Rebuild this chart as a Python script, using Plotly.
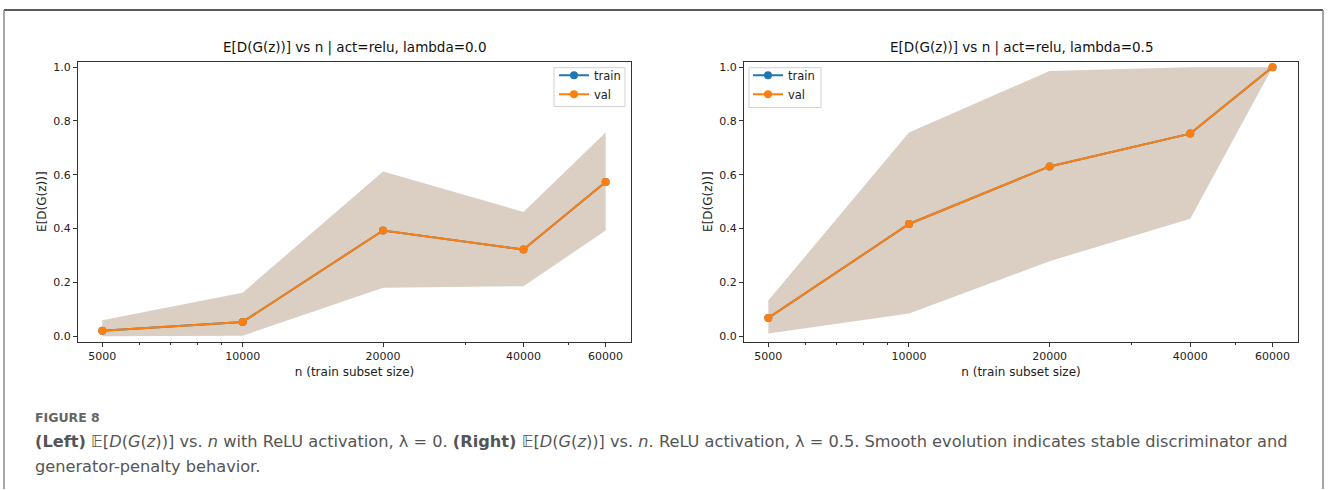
import plotly.graph_objects as go

# Training subset sizes (log-scaled x axis)
n_sizes = [5000, 10000, 20000, 40000, 60000]
x_tick_labels = ["5000", "10000", "20000", "40000", "60000"]
minor_ticks = [6000, 7000, 8000, 9000, 30000, 50000]
y_ticks = [0.0, 0.2, 0.4, 0.6, 0.8, 1.0]

# lambda = 0.0
left_train = [0.020, 0.053, 0.393, 0.322, 0.573]
left_val = [0.020, 0.053, 0.393, 0.322, 0.573]
left_upper = [0.059, 0.162, 0.612, 0.462, 0.757]
left_lower = [0.000, 0.002, 0.180, 0.186, 0.393]

# lambda = 0.5
right_train = [0.068, 0.417, 0.631, 0.753, 1.000]
right_val = [0.068, 0.417, 0.631, 0.753, 1.000]
right_upper = [0.133, 0.757, 0.986, 1.000, 1.000]
right_lower = [0.010, 0.084, 0.279, 0.437, 1.000]

titles = ["E[D(G(z))] vs n | act=relu, lambda=0.0",
          "E[D(G(z))] vs n | act=relu, lambda=0.5"]

BLUE = "#1f77b4"
ORANGE = "#ff7f0e"
W, H = 1328, 490
MPL_FONT = "DejaVu Sans"


def px_x(p):
    return p / W


def px_y(p):
    return 1 - p / H


fig = go.Figure()

panels = [
    dict(train=left_train, val=left_val, up=left_upper, lo=left_lower,
         xa="x", ya="y", legend="legend"),
    dict(train=right_train, val=right_val, up=right_upper, lo=right_lower,
         xa="x2", ya="y2", legend="legend2"),
]

for p in panels:
    poly_x = n_sizes + n_sizes[::-1]
    poly_y = p["up"] + p["lo"][::-1]
    # shaded spread bands (train then val), semi-transparent
    for col in ("rgba(31,119,180,0.2)", "rgba(255,127,14,0.2)"):
        fig.add_trace(go.Scatter(
            x=poly_x, y=poly_y, fill="toself", fillcolor=col,
            line=dict(width=0), mode="lines", hoverinfo="skip",
            showlegend=False, xaxis=p["xa"], yaxis=p["ya"]))
    for name, ys, col in (("train", p["train"], BLUE), ("val", p["val"], ORANGE)):
        fig.add_trace(go.Scatter(
            x=n_sizes, y=ys, name=name, mode="lines+markers",
            line=dict(color=col, width=2),
            marker=dict(color=col, size=8),
            xaxis=p["xa"], yaxis=p["ya"], legend=p["legend"]))

y_dom = [px_y(342), px_y(61)]
x_doms = [[px_x(78), px_x(631)], [px_x(744), px_x(1298)]]

axis_common = dict(
    showgrid=False, zeroline=False, showline=True, mirror=True,
    linecolor="#333", linewidth=1, ticks="outside", ticklen=4,
    tickcolor="#333", tickwidth=1,
    tickfont=dict(family=MPL_FONT, size=11, color="#222"),
)

for i, xd in enumerate(x_doms):
    sfx = "" if i == 0 else str(i + 1)
    fig.update_layout({
        f"xaxis{sfx}": dict(
            axis_common, domain=xd, type="log",
            range=[3.6469, 4.8326],
            tickmode="array", tickvals=n_sizes, ticktext=x_tick_labels,
            minor=dict(tickmode="array", tickvals=minor_ticks, ticks="outside",
                       ticklen=2, tickcolor="#333", showgrid=False),
            anchor=f"y{sfx}",
            title=dict(text="n (train subset size)",
                       font=dict(family=MPL_FONT, size=12, color="#222"),
                       standoff=5),
        ),
        f"yaxis{sfx}": dict(
            axis_common, domain=y_dom, range=[-0.02, 1.02],
            tickmode="array", tickvals=y_ticks, tickformat=".1f",
            anchor=f"x{sfx}",
            title=dict(text="E[D(G(z))]",
                       font=dict(family=MPL_FONT, size=12, color="#222"),
                       standoff=4),
        ),
    })

# legends: transparent plotly legends over drawn frames
legend_common = dict(
    bgcolor="rgba(0,0,0,0)", borderwidth=0,
    font=dict(family=MPL_FONT, size=11.5, color="#222"),
    yanchor="top", itemwidth=30, tracegroupgap=0,
)
fig.update_layout(
    legend=dict(legend_common, x=px_x(626), xanchor="right", y=px_y(60)),
    legend2=dict(legend_common, x=px_x(748), xanchor="left", y=px_y(60)),
)

annotations = []
for xd, t in zip(x_doms, titles):
    annotations.append(dict(
        text=t, x=(xd[0] + xd[1]) / 2, y=px_y(47), xref="paper", yref="paper",
        showarrow=False, font=dict(family=MPL_FONT, size=13.5, color="#111"),
        xanchor="center", yanchor="middle"))

CAP_FONT = "DejaVu Sans"
annotations.append(dict(
    text="<b>FIGURE 8</b>", x=px_x(33), y=px_y(418), xref="paper", yref="paper",
    showarrow=False, xanchor="left", yanchor="middle",
    font=dict(family=CAP_FONT, size=12.5, color="#666")))
E_expr = "\U0001D53C[<i>D</i>(<i>G</i>(<i>z</i>))]"
line1 = (f"<b>(Left)</b> {E_expr} vs. <i>n</i> with ReLU activation, λ = 0. "
         f"<b>(Right)</b> {E_expr} vs. <i>n</i>. ReLU activation, λ = 0.5. "
         "Smooth evolution indicates stable discriminator and")
line2 = "generator-penalty behavior."
for txt, yy in ((line1, 442), (line2, 467)):
    annotations.append(dict(
        text=txt, x=px_x(33), y=px_y(yy), xref="paper", yref="paper",
        showarrow=False, xanchor="left", yanchor="middle",
        font=dict(family=CAP_FONT, size=16.2, color="#555")))

shapes = [
    dict(type="line", xref="paper", yref="paper", x0=px_x(4), x1=px_x(1323),
         y0=px_y(9), y1=px_y(9), line=dict(color="#222", width=1.5)),
    dict(type="line", xref="paper", yref="paper", x0=px_x(4), x1=px_x(4),
         y0=px_y(9), y1=0, line=dict(color="#888", width=1.5)),
    dict(type="line", xref="paper", yref="paper", x0=px_x(1323), x1=px_x(1323),
         y0=px_y(9), y1=0, line=dict(color="#888", width=1.5)),
]
# legend frames
for (x0, x1, y0, y1) in ((554, 625, 67, 106), (749, 821, 67, 107)):
    shapes.append(dict(
        type="rect", xref="paper", yref="paper", layer="above",
        x0=px_x(x0), x1=px_x(x1), y0=px_y(y1), y1=px_y(y0),
        fillcolor="rgba(255,255,255,0.8)", line=dict(color="#d0d0d0", width=1)))

fig.update_layout(
    width=W, height=H, margin=dict(l=0, r=0, t=0, b=0),
    paper_bgcolor="white", plot_bgcolor="white",
    annotations=annotations, shapes=shapes,
)

fig.write_html("out.html")
